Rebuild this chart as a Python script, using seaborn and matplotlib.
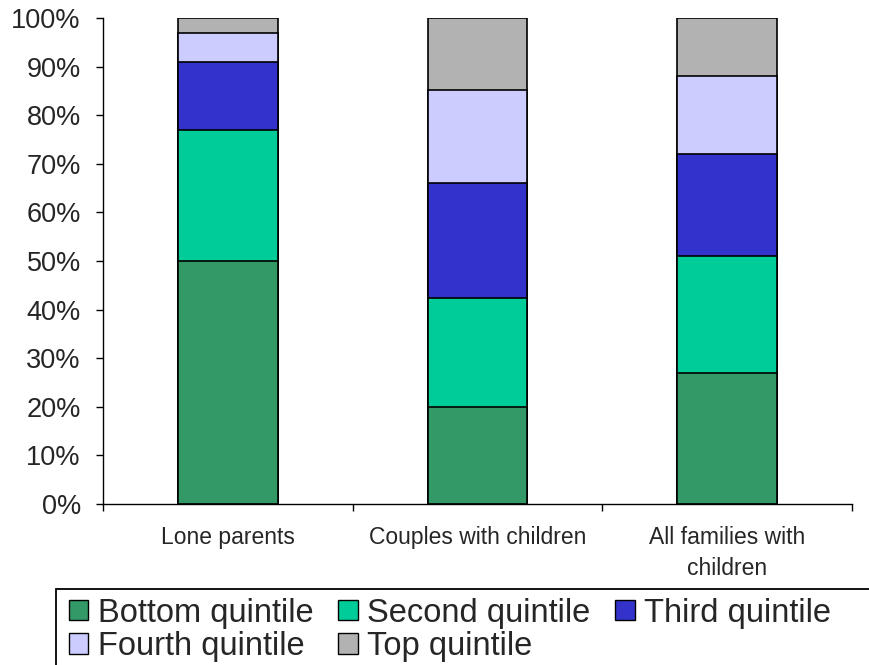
import numpy as np
import pandas as pd
import matplotlib
matplotlib.use("Agg")
import matplotlib.pyplot as plt
from matplotlib.patches import Patch, Rectangle
import seaborn as sns

# data (percent of each family type)
categories = ["Lone parents", "Couples with children", "All families with\nchildren"]
quintiles = ["Bottom quintile", "Second quintile", "Third quintile", "Fourth quintile", "Top quintile"]
bottom_q = [50, 20, 27]
second_q = [27, 22.4, 24]
third_q = [14, 23.6, 21]
fourth_q = [6, 19.2, 16]
top_q = [3, 14.8, 12]
colours = ["#339966", "#00CC99", "#3333CC", "#CCCCFF", "#B2B2B2"]

sns.set_style("ticks")
plt.rcParams["font.family"] = ["Liberation Sans", "DejaVu Sans"]

series = [bottom_q, second_q, third_q, fourth_q, top_q]
cum = np.cumsum(np.array(series), axis=0)

fig = plt.figure(figsize=(8.7, 6.65), dpi=100)
ax = fig.add_axes([103 / 870, 1 - 504 / 665, (852 - 103) / 870, (504 - 18) / 665])

# stacked bars: draw cumulative totals from the top down
for i in reversed(range(len(quintiles))):
    df = pd.DataFrame({"cat": categories, "val": cum[i]})
    sns.barplot(data=df, x="cat", y="val", color=colours[i], width=0.4,
                edgecolor="black", linewidth=1.2, saturation=1, ax=ax)

ax.set_xlim(-0.5, 2.5)
ax.set_ylim(0, 100)
ax.set_yticks(np.arange(0, 101, 10))
ax.set_yticklabels([f"{v}%" for v in range(0, 101, 10)], fontsize=19.5)
ax.set_xticks([-0.5, 0.5, 1.5, 2.5])
ax.set_xticklabels([])
ax.set_xticks([0, 1, 2], minor=True)
ax.set_xticklabels(categories, minor=True, fontsize=16.5, linespacing=1.45)
ax.tick_params(axis="x", which="minor", length=0, pad=16)
ax.tick_params(axis="both", which="major", length=5, width=1, color="black")
ax.tick_params(axis="y", pad=11)
ax.set_xlabel("")
ax.set_ylabel("")
sns.despine(ax=ax)
for s in ["left", "bottom"]:
    ax.spines[s].set_color("black")
    ax.spines[s].set_linewidth(1)

handles = [Patch(facecolor=c, edgecolor="black", linewidth=1) for c in colours]
order = [0, 3, 1, 4, 2]
leg = fig.legend([handles[k] for k in order], [quintiles[k] for k in order],
                 loc="upper left", bbox_to_anchor=(62 / 870, 1 - 591 / 665),
                 ncol=3, fontsize=23.5, frameon=False,
                 handlelength=0.6, handleheight=0.6, handletextpad=0.3,
                 columnspacing=0.75, labelspacing=0.08, borderpad=0.2,
                 borderaxespad=0)
# legend frame runs off the right and bottom edges, as in the original
fig.patches.append(Rectangle((56 / 870, -0.05), 1.0, 0.05 + 1 - 589 / 665,
                             transform=fig.transFigure, fill=False,
                             edgecolor="black", linewidth=1.3))

fig.savefig("out.png", dpi=100)
